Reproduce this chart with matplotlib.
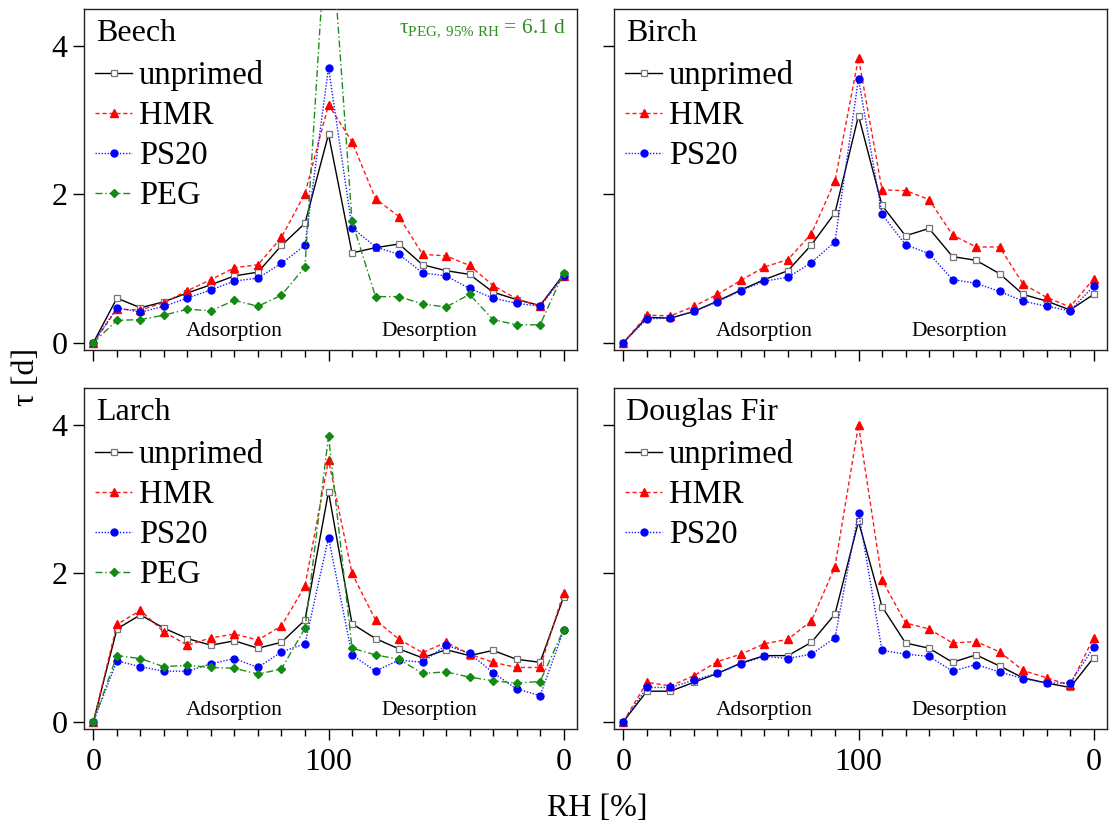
import matplotlib
matplotlib.use("Agg")
import matplotlib.pyplot as plt
from matplotlib.ticker import MultipleLocator, FixedLocator

plt.rcParams['font.family'] = ['Liberation Serif', 'DejaVu Serif']
plt.rcParams['mathtext.fontset'] = 'custom'
plt.rcParams['mathtext.rm'] = 'Liberation Serif'
plt.rcParams['mathtext.it'] = 'Liberation Serif:italic'

# x positions: adsorption 0..100 %RH then desorption 90..0 %RH
x_pos = list(range(0, 201, 10))
x_tick_pos = [0, 100, 200]
x_tick_labels = ["0", "100", "0"]
y_ticks = [0, 2, 4]

# ---- Beech ----
beech_unprimed = [0, 0.60, 0.47, 0.55, 0.67, 0.78, 0.90, 0.95, 1.31, 1.61, 2.81,
                  1.21, 1.28, 1.33, 1.05, 0.97, 0.92, 0.68, 0.58, 0.50, 0.92]
beech_hmr = [0, 0.45, 0.44, 0.54, 0.70, 0.85, 1.01, 1.05, 1.42, 2.01, 3.21,
             2.71, 1.94, 1.70, 1.19, 1.17, 1.04, 0.77, 0.59, 0.49, 0.90]
beech_ps20 = [0, 0.47, 0.41, 0.49, 0.60, 0.71, 0.83, 0.87, 1.07, 1.31, 3.71,
              1.55, 1.29, 1.19, 0.94, 0.90, 0.73, 0.60, 0.53, 0.49, 0.90]
beech_peg = [0, 0.30, 0.31, 0.37, 0.45, 0.43, 0.57, 0.49, 0.64, 1.02, 6.1,
             1.64, 0.62, 0.62, 0.52, 0.48, 0.65, 0.31, 0.24, 0.24, 0.94]

# ---- Birch ----
birch_unprimed = [0, 0.34, 0.33, 0.42, 0.56, 0.71, 0.85, 0.97, 1.32, 1.75, 3.06,
                  1.85, 1.44, 1.54, 1.16, 1.11, 0.93, 0.65, 0.56, 0.44, 0.65]
birch_hmr = [0, 0.37, 0.36, 0.49, 0.65, 0.84, 1.02, 1.12, 1.47, 2.18, 3.84,
             2.06, 2.05, 1.93, 1.45, 1.29, 1.29, 0.79, 0.61, 0.48, 0.86]
birch_ps20 = [0, 0.32, 0.33, 0.42, 0.55, 0.70, 0.83, 0.88, 1.08, 1.36, 3.56,
              1.73, 1.32, 1.20, 0.85, 0.80, 0.69, 0.56, 0.49, 0.43, 0.76]

# ---- Larch ----
larch_unprimed = [0, 1.25, 1.44, 1.26, 1.12, 1.03, 1.09, 0.99, 1.07, 1.37, 3.10,
                  1.32, 1.12, 0.98, 0.86, 0.97, 0.89, 0.96, 0.84, 0.80, 1.68]
larch_hmr = [0, 1.31, 1.50, 1.21, 1.03, 1.13, 1.18, 1.10, 1.29, 1.83, 3.53,
             2.00, 1.37, 1.11, 0.93, 1.07, 0.91, 0.80, 0.73, 0.73, 1.74]
larch_ps20 = [0, 0.82, 0.74, 0.68, 0.68, 0.78, 0.85, 0.73, 0.94, 1.05, 2.48,
              0.90, 0.68, 0.83, 0.80, 1.03, 0.92, 0.66, 0.44, 0.35, 1.23]
larch_peg = [0, 0.89, 0.85, 0.74, 0.76, 0.73, 0.72, 0.64, 0.71, 1.26, 3.85,
             0.99, 0.90, 0.84, 0.65, 0.67, 0.60, 0.55, 0.52, 0.54, 1.24]

# ---- Douglas Fir ----
douglas_unprimed = [0, 0.41, 0.41, 0.53, 0.65, 0.79, 0.89, 0.89, 1.07, 1.45, 2.70,
                    1.55, 1.06, 0.99, 0.80, 0.90, 0.75, 0.59, 0.52, 0.46, 0.86]
douglas_hmr = [0, 0.53, 0.48, 0.62, 0.81, 0.91, 1.05, 1.11, 1.36, 2.09, 4.00,
               1.91, 1.33, 1.25, 1.06, 1.08, 0.94, 0.69, 0.59, 0.49, 1.13]
douglas_ps20 = [0, 0.46, 0.46, 0.56, 0.65, 0.78, 0.88, 0.85, 0.91, 1.13, 2.82,
                0.96, 0.91, 0.88, 0.68, 0.77, 0.67, 0.58, 0.52, 0.52, 1.00]

styles = {
    "unprimed": dict(color="black", ls="-", marker="s", mfc="white", mec="#777777", ms=5, mew=0.9),
    "HMR": dict(color="#ff1a1a", ls=(0, (3, 2)), marker="^", mfc="#ff0000", mec="#ff0000", ms=6),
    "PS20": dict(color="#1a1aff", ls=(0, (1, 1.2)), marker="o", mfc="#0000ff", mec="#0000ff", ms=5),
    "PEG": dict(color="#1e8c1e", ls=(0, (5, 2, 1, 2)), marker="D", mfc="#138a13", mec="#138a13", ms=4.5),
}

panels = [
    ("Beech", {"unprimed": beech_unprimed, "HMR": beech_hmr, "PS20": beech_ps20, "PEG": beech_peg}),
    ("Birch", {"unprimed": birch_unprimed, "HMR": birch_hmr, "PS20": birch_ps20}),
    ("Larch", {"unprimed": larch_unprimed, "HMR": larch_hmr, "PS20": larch_ps20, "PEG": larch_peg}),
    ("Douglas Fir", {"unprimed": douglas_unprimed, "HMR": douglas_hmr, "PS20": douglas_ps20}),
]

W, H = 1111, 823
fig = plt.figure(figsize=(W / 100, H / 100), dpi=100)

boxes = [
    (84, 9, 577, 350),
    (614, 9, 1107, 350),
    (84, 388, 577, 729),
    (614, 388, 1107, 729),
]

for i, ((name, series), (l, t, r, b)) in enumerate(zip(panels, boxes)):
    ax = fig.add_axes([l / W, 1 - b / H, (r - l) / W, (b - t) / H])
    for key, vals in series.items():
        st = styles[key]
        ax.plot(x_pos, vals, lw=1.0, label=key, clip_on=True, zorder=3, **st)
    ax.set_xlim(-4, 205.7)
    ax.set_ylim(-0.1, 4.5)
    ax.xaxis.set_major_locator(FixedLocator(x_tick_pos))
    ax.xaxis.set_minor_locator(MultipleLocator(10))
    ax.yaxis.set_major_locator(FixedLocator(y_ticks))
    ax.tick_params(axis="both", which="major", direction="out", length=8, width=1,
                   labelsize=23, top=False, right=False, pad=4)
    ax.tick_params(axis="x", which="major", pad=6)
    ax.tick_params(axis="x", which="minor", direction="out", length=5, width=1, top=False)
    if i >= 2:
        ax.set_xticklabels(x_tick_labels)
    else:
        ax.set_xticklabels([])
    if i % 2 == 0:
        ax.set_yticklabels([str(v) for v in y_ticks])
    else:
        ax.set_yticklabels([])
    for sp in ax.spines.values():
        sp.set_linewidth(1.0)
        sp.set_color("#222222")

    ax.text(0.025, 0.972, name, transform=ax.transAxes, ha="left", va="top", fontsize=23)
    ax.legend(loc="upper left", bbox_to_anchor=(0.022, 0.85), frameon=False, fontsize=23.5,
              handlelength=1.15, handletextpad=0.2, labelspacing=0.29, borderpad=0,
              borderaxespad=0)
    ax.text(60, 0.15, "Adsorption", ha="center", va="center", fontsize=15.5)
    ax.text(143, 0.15, "Desorption", ha="center", va="center", fontsize=15.5)

    if name == "Beech":
        ax.text(0.978, 0.975, r"τ$_{\mathrm{PEG,\ 95\%\ RH}}$ = 6.1 d", transform=ax.transAxes,
                ha="right", va="top", fontsize=15.5, color="#2e8b22")

fig.text(27 / W, 1 - 377 / H, "τ [d]", rotation=90, ha="center", va="center", fontsize=23)
fig.text(597 / W, 1 - 808 / H, "RH [%]", ha="center", va="center", fontsize=23)

fig.savefig("out.png", dpi=100)
